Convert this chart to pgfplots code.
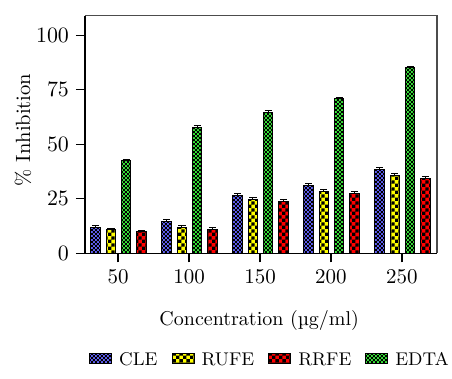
\documentclass[border=0pt]{standalone}
\usepackage{pgfplots}
\usepackage{pgfplotstable}
\pgfplotsset{compat=1.18}
\usetikzlibrary{patterns}

% checkerboard fills in two sizes
\pgfdeclarepatternformonly{fine checker}{\pgfpointorigin}{\pgfqpoint{2pt}{2pt}}{\pgfqpoint{2pt}{2pt}}{%
  \pgfpathrectangle{\pgfpointorigin}{\pgfqpoint{1pt}{1pt}}%
  \pgfpathrectangle{\pgfqpoint{1pt}{1pt}}{\pgfqpoint{1pt}{1pt}}%
  \pgfusepath{fill}}
\pgfdeclarepatternformonly{coarse checker}{\pgfpointorigin}{\pgfqpoint{3.4pt}{3.4pt}}{\pgfqpoint{3.4pt}{3.4pt}}{%
  \pgfpathrectangle{\pgfpointorigin}{\pgfqpoint{1.7pt}{1.7pt}}%
  \pgfpathrectangle{\pgfqpoint{1.7pt}{1.7pt}}{\pgfqpoint{1.7pt}{1.7pt}}%
  \pgfusepath{fill}}

\definecolor{cleblue}{RGB}{96,96,245}
\definecolor{rufeyellow}{RGB}{255,255,0}
\definecolor{rrfered}{RGB}{255,0,0}
\definecolor{edtagreen}{RGB}{55,230,55}

% concentration index, mean inhibition (%) and error for each extract
\pgfplotstableread{
idx cle cleE rufe rufeE edta edtaE rrfe rrfeE
0   12.0 0.6 11.0 0.6 42.6 0.6 10.0 0.6
1   14.7 0.8 11.9 0.8 57.9 0.8 11.0 0.9
2   26.5 0.8 24.7 0.7 64.5 0.8 23.7 0.8
3   31.2 0.7 28.4 0.7 70.8 0.8 27.5 0.7
4   38.5 0.8 35.8 0.8 85.1 0.8 34.4 0.7
}\inhib

\pgfplotsset{
  barstyle/.style n args={2}{
    fill=#1, draw=black, line width=0.5pt,
    postaction={pattern=#2, pattern color=black},
    legend image code/.code={\draw[##1] (0pt,0.6pt) rectangle (11pt,5.8pt);},
  },
}

\begin{document}
\begin{tikzpicture}
\useasboundingbox (0,0) rectangle (226pt,189.5pt);
\begin{axis}[
  at={(42.5pt,62.85pt)}, anchor=south west,
  scale only axis, width=176pt, height=118.8pt,
  font=\fontsize{10.5}{12}\selectfont,
  axis x line*=bottom, axis y line*=left,
  axis line style={-, line width=0.75pt, black},
  xmin=-0.465, xmax=4.493, ymin=0, ymax=109,
  xtick={0,1,2,3,4}, xticklabels={50,100,150,200,250},
  ytick={0,25,50,75,100},
  tick align=outside, major tick length=4.5pt,
  tick style={line width=0.6pt, black},
  ybar, bar width=0.135, bar shift=0pt,
  xlabel={Concentration (µg/ml)},
  ylabel={\% Inhibition},
  xlabel style={at={(axis description cs:0.495,-0.282)}, anchor=center, font=\fontsize{10}{12}\selectfont},
  ylabel style={at={(axis description cs:-0.176,0.519)}, anchor=center, font=\fontsize{10.3}{12}\selectfont},
  legend style={at={(axis description cs:0.523,-0.449)}, anchor=center,
    draw=none, fill=none, legend columns=4, inner sep=0pt,
    nodes={inner sep=0pt, anchor=base west},
    /tikz/every odd column/.append style={column sep=3.5pt},
    /tikz/every even column/.append style={column sep=7pt},
    font=\fontsize{9.2}{11}\selectfont},
  legend cell align=left,
  error bars/error bar style={line width=0.5pt, black},
  error bars/error mark options={rotate=90, mark size=1.8pt, line width=0.5pt, black},
  after end axis/.code={
    \draw[line width=0.75pt, black!70] (rel axis cs:0,1) -- (rel axis cs:1,1) -- (rel axis cs:1,0);
  },
]
\addplot[barstyle={cleblue}{fine checker},
  error bars/.cd, y dir=plus, y explicit]
  table[x expr=\thisrow{idx}-0.314, y=cle, y error=cleE] {\inhib};
\addlegendentry{CLE}
\addplot[barstyle={rufeyellow}{coarse checker},
  error bars/.cd, y dir=plus, y explicit]
  table[x expr=\thisrow{idx}-0.100, y=rufe, y error=rufeE] {\inhib};
\addlegendentry{RUFE}
\addplot[barstyle={rrfered}{coarse checker},
  error bars/.cd, y dir=plus, y explicit]
  table[x expr=\thisrow{idx}+0.331, y=rrfe, y error=rrfeE] {\inhib};
\addlegendentry{RRFE}
\addplot[barstyle={edtagreen}{fine checker},
  error bars/.cd, y dir=plus, y explicit]
  table[x expr=\thisrow{idx}+0.115, y=edta, y error=edtaE] {\inhib};
\addlegendentry{EDTA}
\end{axis}
\end{tikzpicture}
\end{document}
